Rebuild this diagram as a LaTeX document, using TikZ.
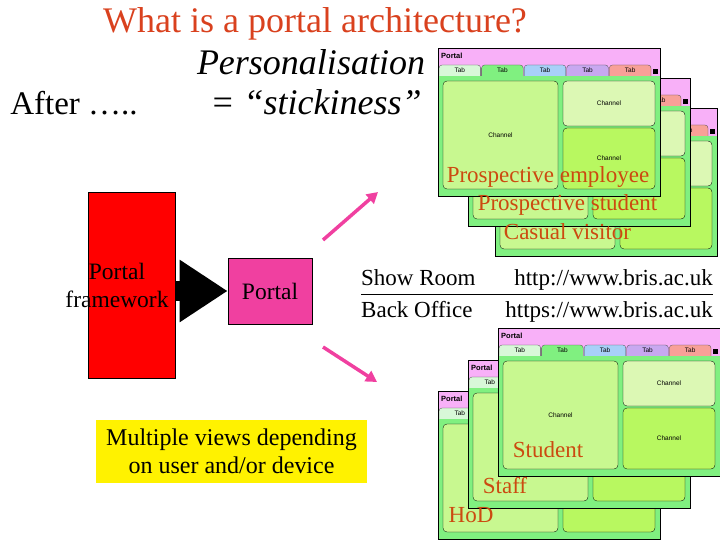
\documentclass[tikz,border=0pt]{standalone}
\usepackage{fontspec}
\setmainfont{Liberation Serif}
\setsansfont{Liberation Sans}
\usetikzlibrary{arrows.meta}
\definecolor{titlered}{HTML}{D9411E}
\definecolor{labelred}{HTML}{CC4A10}
\definecolor{portalpink}{HTML}{F040A0}
\definecolor{shotgreen}{HTML}{80F080}
\definecolor{shotpink}{HTML}{F8B0F8}
\definecolor{tabwhite}{HTML}{D8F8D8}
\definecolor{tabblue}{HTML}{A8D0F8}
\definecolor{tablilac}{HTML}{C8A8F0}
\definecolor{tabsalmon}{HTML}{F8A098}
\definecolor{chanleft}{HTML}{C8F890}
\definecolor{chantop}{HTML}{DCF8B4}
\definecolor{chanbottom}{HTML}{B8F860}

%% one screenshot of a portal page, top left corner at (#1,#2)
\newcommand{\portalshot}[2]{%
  \begin{scope}[shift={(#1,#2)}]
    \fill[shotpink] (0,0) rectangle (222,28);
    \node[anchor=west, inner sep=0, font=\sffamily\bfseries\fontsize{7.5}{8}\selectfont] at (3,8) {Portal};
    \foreach \i/\c in {0/tabwhite, 1/shotgreen, 2/tabblue, 3/tablilac, 4/tabsalmon} {
      \filldraw[fill=\c, draw=black!70, line width=0.3pt, rounded corners=3pt]
        ({\i*42.6+1},17) rectangle ({\i*42.6+42.6},34);
      \node[inner sep=0, font=\sffamily\fontsize{6.5}{7}\selectfont] at ({\i*42.6+21.8},22.5) {Tab};
    }
    \fill (215,21) rectangle (220,26);
    \fill[shotgreen] (0,28) rectangle (222,148);
    \filldraw[fill=chanleft, line width=0.3pt, rounded corners=4pt] (5,33) rectangle (120,141);
    \filldraw[fill=chantop, line width=0.3pt, rounded corners=4pt] (125,33) rectangle (217,78);
    \filldraw[fill=chanbottom, line width=0.3pt, rounded corners=4pt] (125,80) rectangle (217,141);
    \foreach \cx/\cy in {62.5/87, 171/55, 171/110} {
      \node[inner sep=0, font=\sffamily\fontsize{6.5}{7}\selectfont] at (\cx,\cy) {Channel};
    }
    \draw[line width=0.8pt] (0,0) rectangle (222,148);
  \end{scope}}

\begin{document}
\begin{tikzpicture}[x=1pt, y=-1pt, inner sep=0pt,
    bigtext/.style={font=\fontsize{33}{36}\selectfont},
    midtext/.style={font=\fontsize{23.5}{28}\selectfont, align=center},
    whotext/.style={font=\fontsize{23}{26}\selectfont, text=labelred, anchor=base},
    pinkarrow/.style={portalpink, line width=3.5pt, -{Triangle[length=11pt,width=12pt]}}]
  \useasboundingbox (0,0) rectangle (720,540);
  %% --- Heading ---
  \node[anchor=base, text=titlered, font=\fontsize{36}{40}\selectfont] (title) at (315,33)
    {What is a portal architecture?};
  \node[anchor=base, bigtext] (after) at (74,115) {After …..};
  \node[anchor=base, font=\fontsize{36}{40}\selectfont\itshape] (personal) at (311,75)
    {Personalisation};
  \node[anchor=base, font=\fontsize{36}{40}\selectfont\itshape] (sticky) at (316,115)
    {= “stickiness”};
  %% --- Framework and portal ---
  \node[fill=red, draw=black, line width=0.6pt, minimum width=87pt, minimum height=186pt]
    (fwbox) at (131.5,285) {};
  \node[midtext] (fwtext) at (117,285) {Portal\\framework};
  \node[fill=portalpink, draw=black, line width=0.6pt, minimum width=84pt, minimum height=66pt,
    midtext] (portal) at (270,291) {Portal};
  \draw[line width=20pt, -{Triangle[length=48pt,width=59pt]}] (fwbox.east |- portal) -- (portal.west);
  %% --- Pink arrows to the two groups of views ---
  \coordinate (upfrom) at (323,240);
  \coordinate (upto) at (378,192);
  \coordinate (downfrom) at (323,347);
  \coordinate (downto) at (377,382);
  \draw[pinkarrow] (upfrom) -- (upto);
  \draw[pinkarrow] (downfrom) -- (downto);
  %% --- Show room / back office ---
  \node[anchor=base west, font=\fontsize{23}{26}\selectfont] (showroom) at (361,285) {Show Room};
  \node[anchor=base east, font=\fontsize{23}{26}\selectfont] (httpurl) at (713,285) {http://www.bris.ac.uk};
  \node[anchor=base west, font=\fontsize{23}{26}\selectfont] (backoffice) at (361,317) {Back Office};
  \node[anchor=base east, font=\fontsize{23}{26}\selectfont] (httpsurl) at (713,317) {https://www.bris.ac.uk};
  \draw[line width=0.8pt] ([yshift=-9pt]showroom.base west) -- ([yshift=-9pt]httpurl.base east);
  %% --- Note ---
  \node[fill=yellow, minimum width=271pt, minimum height=63pt, midtext,
    font=\fontsize{24}{28}\selectfont] (views) at (231.5,451.5)
    {Multiple views depending\\on user and/or device};
  %% --- Views for visitors ---
  \portalshot{495}{108}
  \portalshot{468}{78}
  \portalshot{438}{48}
  \node[whotext] (employee) at (548,183) {Prospective employee};
  \node[whotext] (student) at (567.5,211) {Prospective student};
  \node[whotext] (casual) at (567.5,240) {Casual visitor};
  %% --- Views for members ---
  \portalshot{438}{391}
  \portalshot{468}{360}
  \portalshot{498}{328}
  \node[whotext] (member) at (548,457) {Student};
  \node[whotext] (staff) at (505,493) {Staff};
  \node[whotext] (hod) at (471,522) {HoD};
\end{tikzpicture}
\end{document}
